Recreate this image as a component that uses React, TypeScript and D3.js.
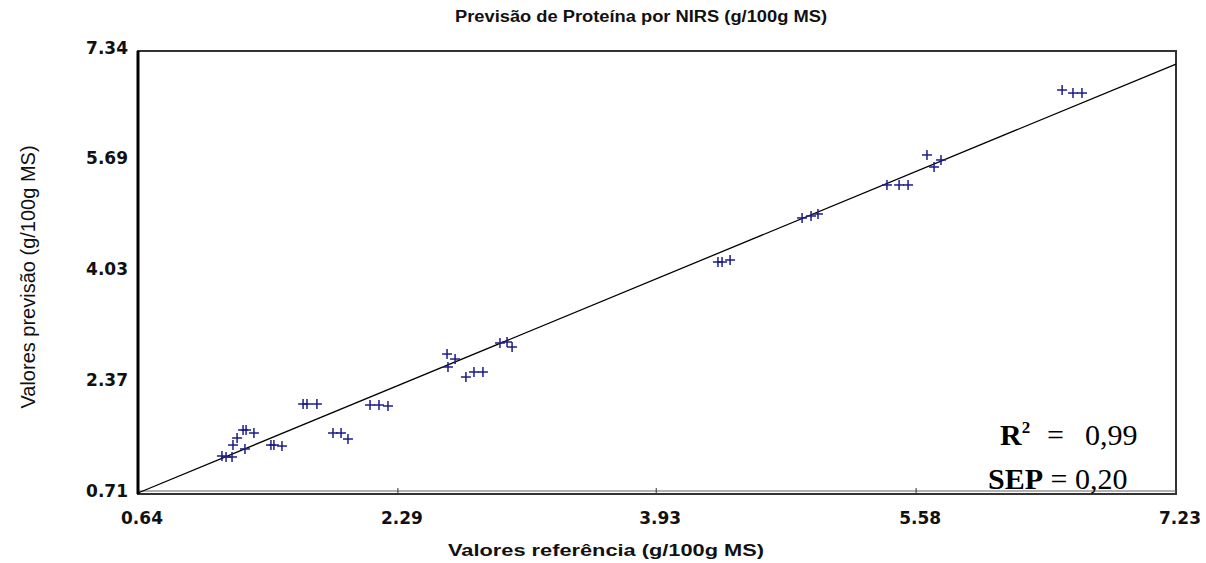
import React from "react";
import * as d3 from "d3";

const chartTitle = "Previsão de Proteína por NIRS (g/100g MS)";
const xTitle = "Valores referência (g/100g MS)";
const yTitle = "Valores previsão (g/100g MS)";
const xTicks = [0.64, 2.29, 3.93, 5.58, 7.23];
const yTicks = [0.71, 2.37, 4.03, 5.69, 7.34];
const xDomain = [0.64, 7.23];
const yDomain = [0.71, 7.34];

const refValues = [
  1.173, 1.199, 1.237, 1.243, 1.269, 1.307, 1.326, 1.376, 1.319, 1.484, 1.503, 1.554,
  1.688, 1.713, 1.776, 1.878, 1.929, 1.973, 2.113, 2.17, 2.227,
  2.602, 2.653, 2.608, 2.722, 2.773, 2.83, 2.938, 2.983, 3.015,
  4.322, 4.348, 4.399, 4.856, 4.913, 4.957, 5.395, 5.472, 5.529,
  5.649, 5.694, 5.738, 6.507, 6.576, 6.633,
];
const predValues = [
  1.279, 1.264, 1.264, 1.443, 1.548, 1.668, 1.668, 1.623, 1.384, 1.443, 1.443, 1.428,
  2.057, 2.057, 2.057, 1.623, 1.623, 1.533, 2.042, 2.042, 2.027,
  2.805, 2.73, 2.611, 2.461, 2.536, 2.536, 2.97, 2.985, 2.91,
  4.182, 4.182, 4.212, 4.841, 4.871, 4.901, 5.335, 5.335, 5.335,
  5.784, 5.604, 5.709, 6.756, 6.711, 6.711,
];
const fitLineX = [0.64, 7.23];
const fitLineY = [0.725, 7.145];

export default function App() {
  const W = 1206, H = 563;
  const left = 138, right = 1176, top = 51, bottom = 494;
  const x = d3.scaleLinear().domain(xDomain).range([left, right]);
  const y = d3.scaleLinear().domain(yDomain).range([bottom, top]);
  const line = d3.line<number>().x((_, i) => x(fitLineX[i])).y((d) => y(d));
  const tickFont = "'DejaVu Sans', sans-serif";
  const pts = refValues.map((v, i) => [v, predValues[i]]);
  return (
    <svg width={W} height={H} style={{ position: "absolute", left: 0, top: 0, background: "#fff" }}>
      <text x={641} y={22} textAnchor="middle" fontFamily="'Liberation Sans', Arial, sans-serif"
        fontWeight="bold" fontSize={16} textLength={372} lengthAdjust="spacingAndGlyphs" fill="#111">
        {chartTitle}
      </text>
      {/* frame */}
      <rect x={left} y={top} width={right - left} height={bottom - top} fill="none" stroke="#333" strokeWidth={2} />
      <line x1={left} x2={right} y1={bottom - 3} y2={bottom - 3} stroke="#666" strokeWidth={1} />
      <line x1={left} x2={left} y1={top} y2={bottom} stroke="#000" strokeWidth={3} />
      {xTicks.slice(1, -1).map((t) => (
        <line key={"xt" + t} x1={x(t)} x2={x(t)} y1={bottom} y2={bottom - 6} stroke="#333" strokeWidth={1} />
      ))}
      {/* fit line */}
      <path d={line(fitLineY) || ""} fill="none" stroke="#000" strokeWidth={1.3} />
      {/* points */}
      {pts.map(([a, b], i) => (
        <g key={i} stroke="#1c1c8a" strokeWidth={1.5}>
          <line x1={x(a) - 5} x2={x(a) + 5} y1={y(b)} y2={y(b)} />
          <line x1={x(a)} x2={x(a)} y1={y(b) - 5} y2={y(b) + 5} />
        </g>
      ))}
      {/* y tick labels */}
      {yTicks.map((t) => (
        <text key={"yl" + t} x={128} y={y(t) + 3} textAnchor="end" fontFamily={tickFont}
          fontWeight="bold" fontSize={17} fill="#111">{t.toFixed(2)}</text>
      ))}
      {xTicks.map((t) => (
        <text key={"xl" + t} x={x(t) + 4} y={524} textAnchor="middle" fontFamily={tickFont}
          fontWeight="bold" fontSize={17} fill="#111">{t.toFixed(2)}</text>
      ))}
      <text x={606} y={556} textAnchor="middle" fontFamily="'Liberation Sans', Arial, sans-serif"
        fontWeight="bold" fontSize={16} textLength={316} lengthAdjust="spacingAndGlyphs" fill="#111">
        {xTitle}
      </text>
      <text transform="translate(35,277) rotate(-90)" textAnchor="middle"
        fontFamily="'Liberation Sans', Arial, sans-serif" fontSize={20} fill="#111">
        {yTitle}
      </text>
      {/* annotations */}
      <text x={1000} y={445} fontFamily="'Liberation Serif', 'Times New Roman', serif" fontSize={30} fill="#000">
        <tspan fontWeight="bold">R</tspan>
        <tspan fontWeight="bold" fontSize={17} dy={-12}>2</tspan>
        <tspan dy={12} x={1047}>=</tspan>
        <tspan x={1085}>0,99</tspan>
      </text>
      <text x={988} y={489} fontFamily="'Liberation Serif', 'Times New Roman', serif" fontSize={30} fill="#000">
        <tspan fontWeight="bold">SEP</tspan>
        <tspan> = 0,20</tspan>
      </text>
    </svg>
  );
}
